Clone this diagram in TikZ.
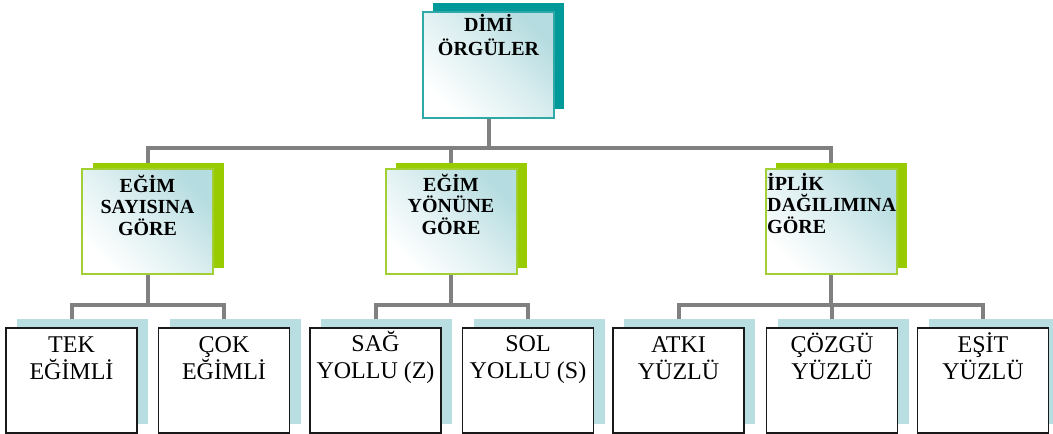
\documentclass[tikz,border=0pt]{standalone}
\usepackage{fontspec}
\setmainfont{Liberation Serif}
\usetikzlibrary{shadows,backgrounds}
\definecolor{tealback}{HTML}{009999}
\definecolor{topborder}{HTML}{2FA8A8}
\definecolor{grad}{HTML}{B5DCE0}
\definecolor{greenback}{HTML}{99CC00}
\definecolor{greenborder}{HTML}{A2D034}
\definecolor{lightback}{HTML}{B8DEE2}
\definecolor{connc}{HTML}{808080}
\begin{document}
\begin{tikzpicture}[x=1pt,y=-1pt,
  gradfill/.style={top color=grad, bottom color=white, middle color=white!55!grad, shading angle=-45},
  topbox/.style={gradfill, draw=topborder, line width=1.5pt, minimum width=131pt, minimum height=106pt, inner sep=0pt,
    general shadow={fill=tealback, shadow xshift=10pt, shadow yshift=9pt}},
  midbox/.style={gradfill, draw=greenborder, line width=2pt, minimum width=131pt, minimum height=105pt, inner sep=0pt,
    general shadow={fill=greenback, shadow xshift=10.5pt, shadow yshift=6pt}},
  leafbox/.style={fill=white, draw=black!90, line width=1.8pt, minimum width=131pt, minimum height=105pt, inner sep=0pt,
    general shadow={fill=lightback, shadow xshift=11pt, shadow yshift=9pt}},
  toptxt/.style={inner sep=0pt, align=center, font=\bfseries\fontsize{20}{24}\selectfont},
  midtxt/.style={inner sep=0pt, font=\bfseries\fontsize{20}{21.5}\selectfont},
  leaftxt/.style={inner sep=0pt, align=center, font=\fontsize{24}{27}\selectfont},
  conn/.style={draw=connc, line width=4pt}
]
\useasboundingbox (0,0) rectangle (1053,434);

% boxes
\node[topbox] (top) at (488.5,65) {};
\node[midbox] (m1) at (147.5,221.5) {};
\node[midbox] (m2) at (451,221.5) {};
\node[midbox] (m3) at (831,221.5) {};
\node[leafbox] (b1) at (71.5,380.5) {};
\node[leafbox] (b2) at (224,380.5) {};
\node[leafbox] (b3) at (375.5,380.5) {};
\node[leafbox] (b4) at (528,380.5) {};
\node[leafbox] (b5) at (678.5,380.5) {};
\node[leafbox] (b6) at (832,380.5) {};
\node[leafbox] (b7) at (983,380.5) {};

% texts
\node[toptxt, anchor=north] (ttop) at (488.5,13) {\rule{0pt}{18pt}DİMİ\\ÖRGÜLER};
\node[midtxt, align=center, anchor=north] (tm1) at (147.5,174) {\rule{0pt}{18pt}EĞİM\\SAYISINA\\GÖRE};
\node[midtxt, align=center, anchor=north] (tm2) at (451,173) {\rule{0pt}{18pt}EĞİM\\YÖNÜNE\\GÖRE};
\node[midtxt, align=left, anchor=north west] (tm3) at (767,172) {\rule{0pt}{18pt}İPLİK\\DAĞILIMINA\\GÖRE};
\node[leaftxt, anchor=north] (tb1) at (71.5,330) {\rule{0pt}{22pt}TEK\\EĞİMLİ};
\node[leaftxt, anchor=north] (tb2) at (224,330) {\rule{0pt}{22pt}ÇOK\\EĞİMLİ};
\node[leaftxt, anchor=north] (tb3) at (375.5,329) {\rule{0pt}{22pt}SAĞ\\YOLLU (Z)};
\node[leaftxt, anchor=north] (tb4) at (528,329) {\rule{0pt}{22pt}SOL\\YOLLU (S)};
\node[leaftxt, anchor=north] (tb5) at (678.5,330) {\rule{0pt}{22pt}ATKI\\YÜZLÜ};
\node[leaftxt, anchor=north] (tb6) at (832,330) {\rule{0pt}{22pt}ÇÖZGÜ\\YÜZLÜ};
\node[leaftxt, anchor=north] (tb7) at (983,330) {\rule{0pt}{22pt}EŞİT\\YÜZLÜ};

% connectors
\begin{scope}[on background layer]
\draw[conn] (top.south) -- ++(0,29) coordinate (j0);
\draw[conn] (m1.north) |- (j0) -| (m3.north);
\draw[conn] (m2.north) -- (m2.north |- j0);
\draw[conn] (m1.south) -- ++(0,30) coordinate (j1);
\draw[conn] (b1.north) |- (j1) -| (b2.north);
\draw[conn] (m2.south) -- ++(0,30) coordinate (j2);
\draw[conn] (b3.north) |- (j2) -| (b4.north);
\draw[conn] (m3.south) -- ++(0,30) coordinate (j3);
\draw[conn] (b5.north) |- (j3) -| (b7.north);
\draw[conn] (b6.north) -- (b6.north |- j3);
\end{scope}
\end{tikzpicture}
\end{document}
